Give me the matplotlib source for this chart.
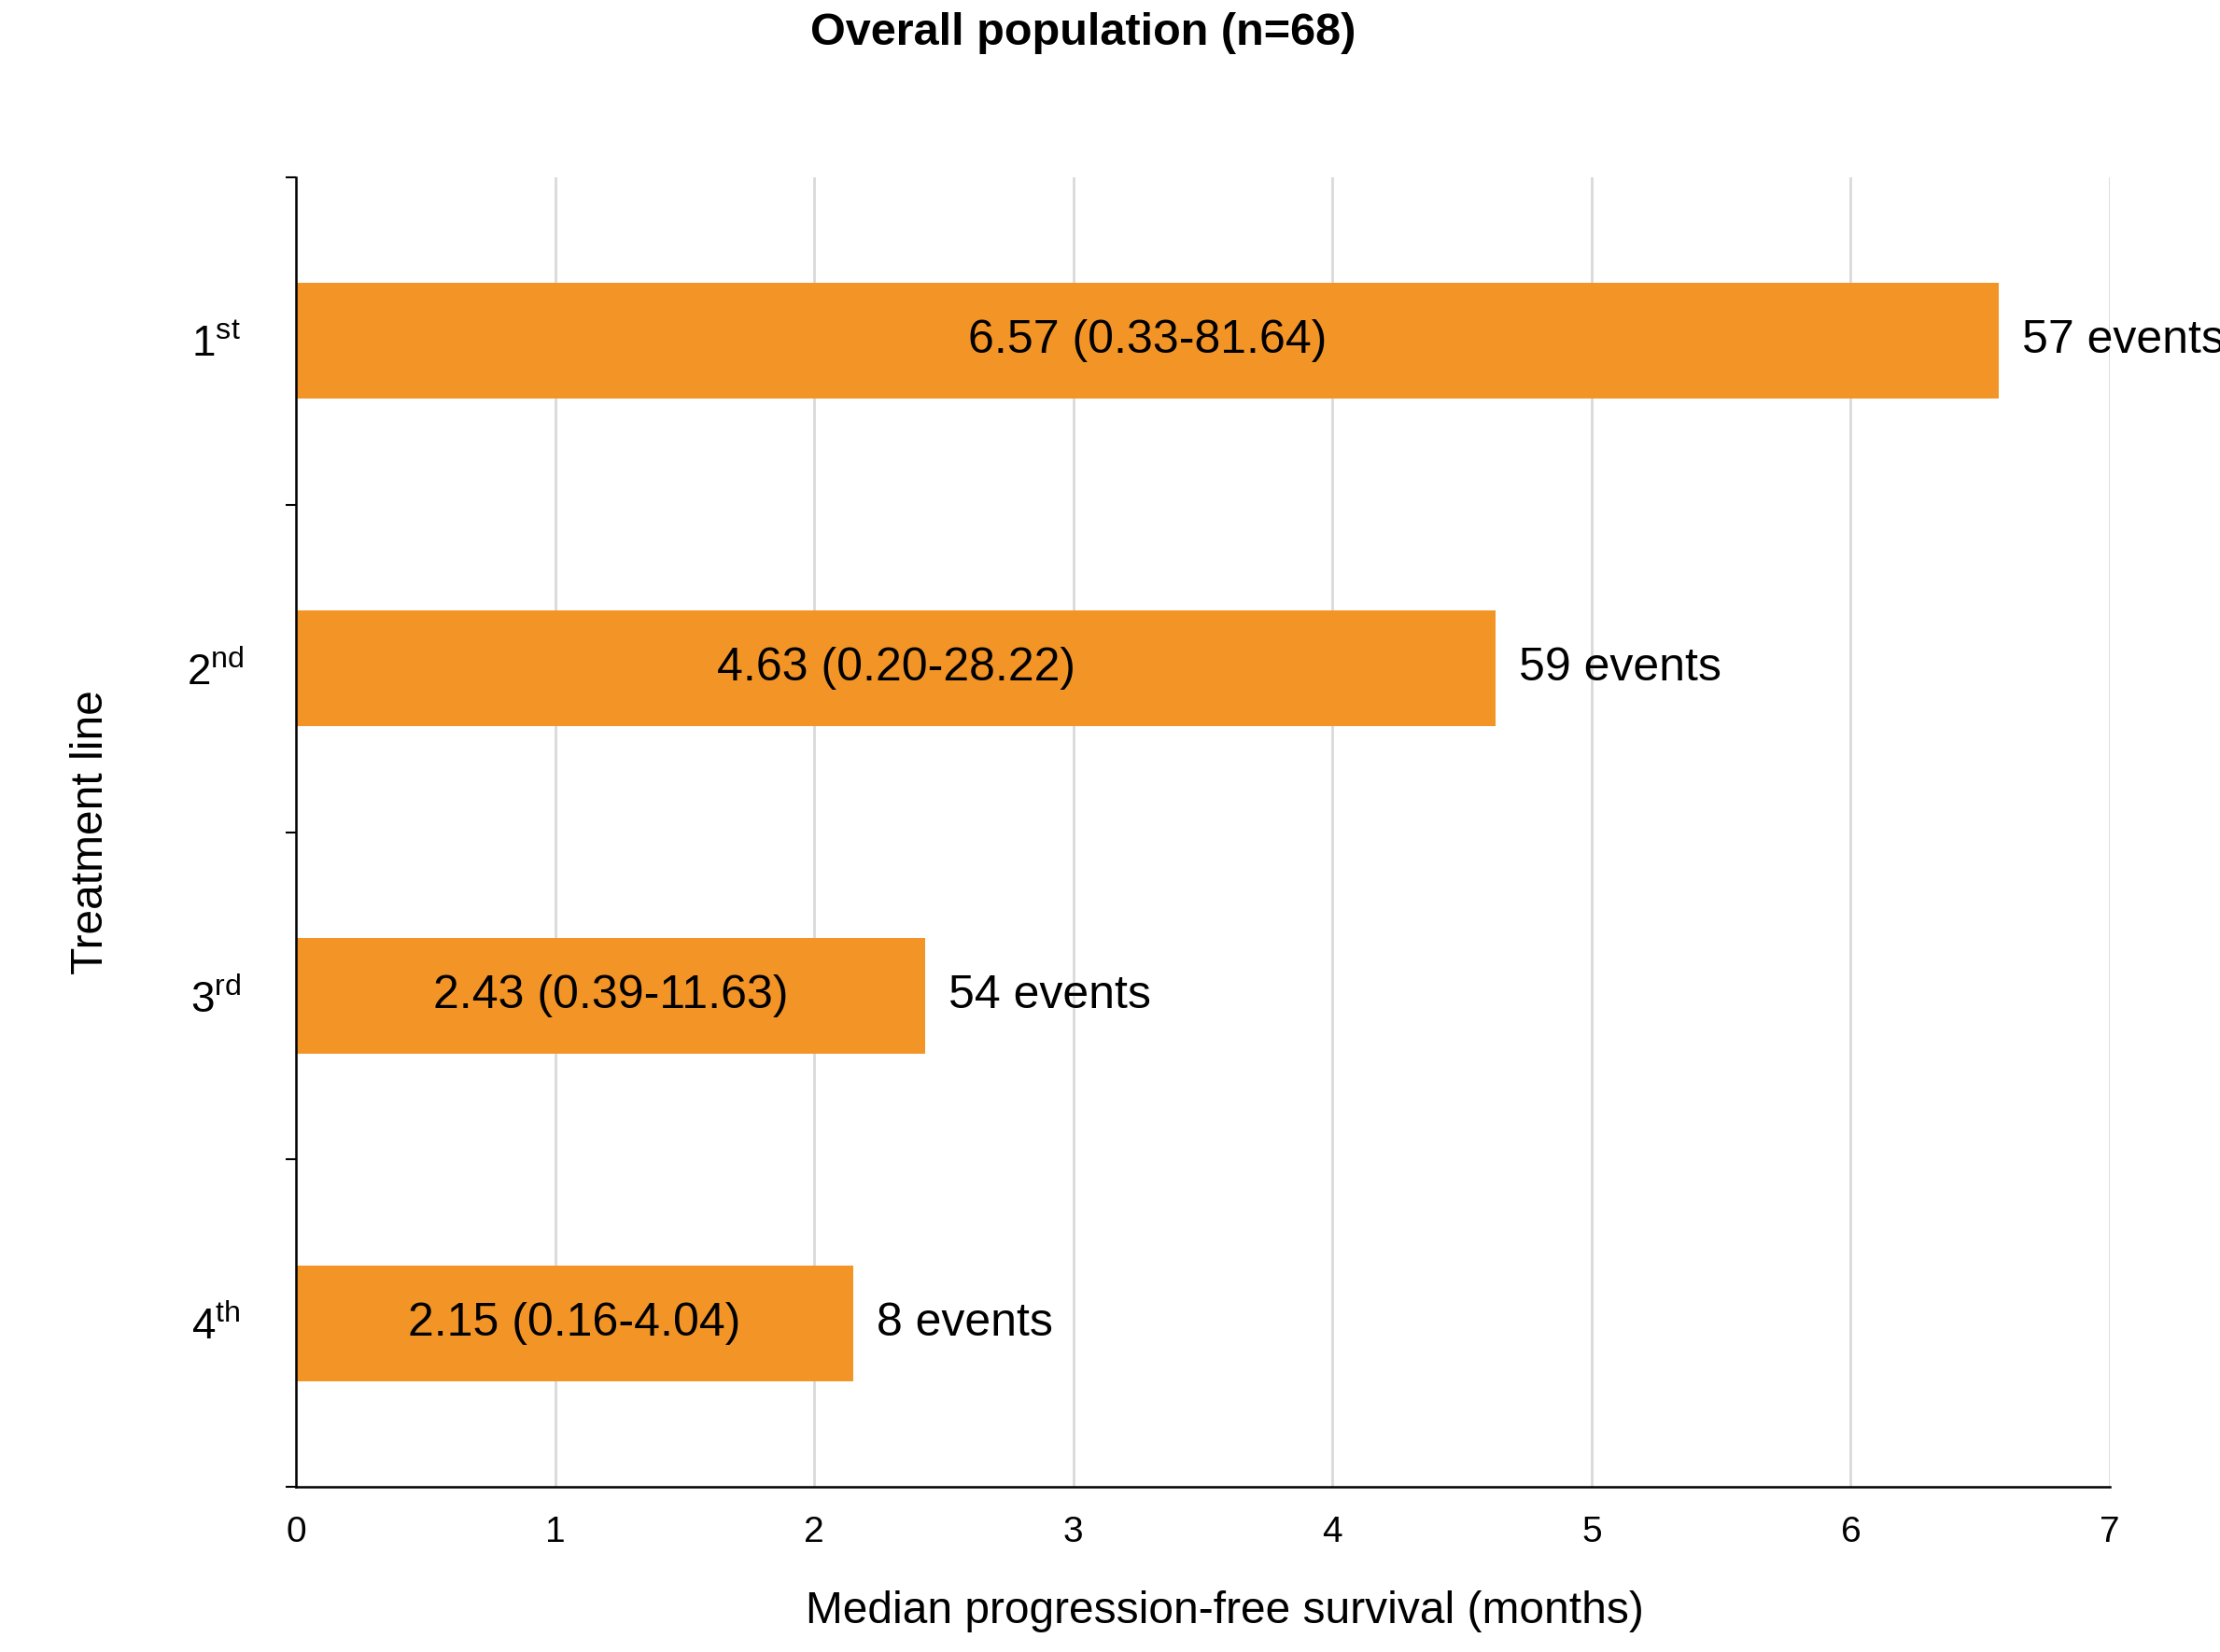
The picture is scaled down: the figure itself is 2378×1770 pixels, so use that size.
import matplotlib
matplotlib.use("Agg")
import matplotlib.pyplot as plt
import numpy as np

plt.rcParams['font.family'] = ['Liberation Sans', 'DejaVu Sans']
plt.rcParams['mathtext.fontset'] = 'custom'
plt.rcParams['mathtext.rm'] = 'Liberation Sans'

lines = [r'1$^{\mathrm{st}}$', r'2$^{\mathrm{nd}}$', r'3$^{\mathrm{rd}}$', r'4$^{\mathrm{th}}$']
median_pfs = [6.57, 4.63, 2.43, 2.15]
ranges = ['0.33-81.64', '0.20-28.22', '0.39-11.63', '0.16-4.04']
events = [57, 59, 54, 8]
bar_color = '#F39426'

fig = plt.figure(figsize=(23.78, 17.7), dpi=100)
ax = fig.add_axes([317/2378, 177/1770, 1943/2378, 1403/1770])

y = np.arange(len(lines))
ax.barh(y, median_pfs, height=0.354, color=bar_color, zorder=2)

for i in range(len(lines)):
    ax.text(median_pfs[i] / 2, y[i], f"{median_pfs[i]:.2f} ({ranges[i]})",
            ha='center', va='center', fontsize=36, zorder=3)
    ax.annotate(f"{events[i]} events", (median_pfs[i], y[i]), xytext=(18, 0),
                textcoords='offset points', ha='left', va='center', fontsize=36,
                annotation_clip=False)

ax.set_xlim(0, 7)
ax.set_ylim(3.5, -0.5)
ax.set_xticks(range(8))
ax.tick_params(axis='x', length=0, labelsize=28, pad=22)
ax.xaxis.grid(True, color='#d9d9d9', linewidth=2, zorder=0)

ax.set_yticks(y)
ax.set_yticklabels(lines, ha='center')
ax.set_yticks(np.arange(-0.5, 4, 1), minor=True)
ax.tick_params(axis='y', which='major', length=0, labelsize=33, pad=62)
ax.tick_params(axis='y', which='minor', length=8, width=1.5, direction='out')

for s in ['top', 'right']:
    ax.spines[s].set_visible(False)
ax.spines['left'].set_linewidth(1.8)
ax.spines['bottom'].set_linewidth(1.8)

ax.set_xlabel("Median progression-free survival (months)", fontsize=34.5, labelpad=32, x=0.512)
ax.set_ylabel("Treatment line", fontsize=34.5, labelpad=58)

fig.text(1160/2378, 1 - 35/1770, "Overall population (n=68)", ha='center', va='center',
         fontsize=35, fontweight='bold')

fig.savefig("out.png", dpi=100)
